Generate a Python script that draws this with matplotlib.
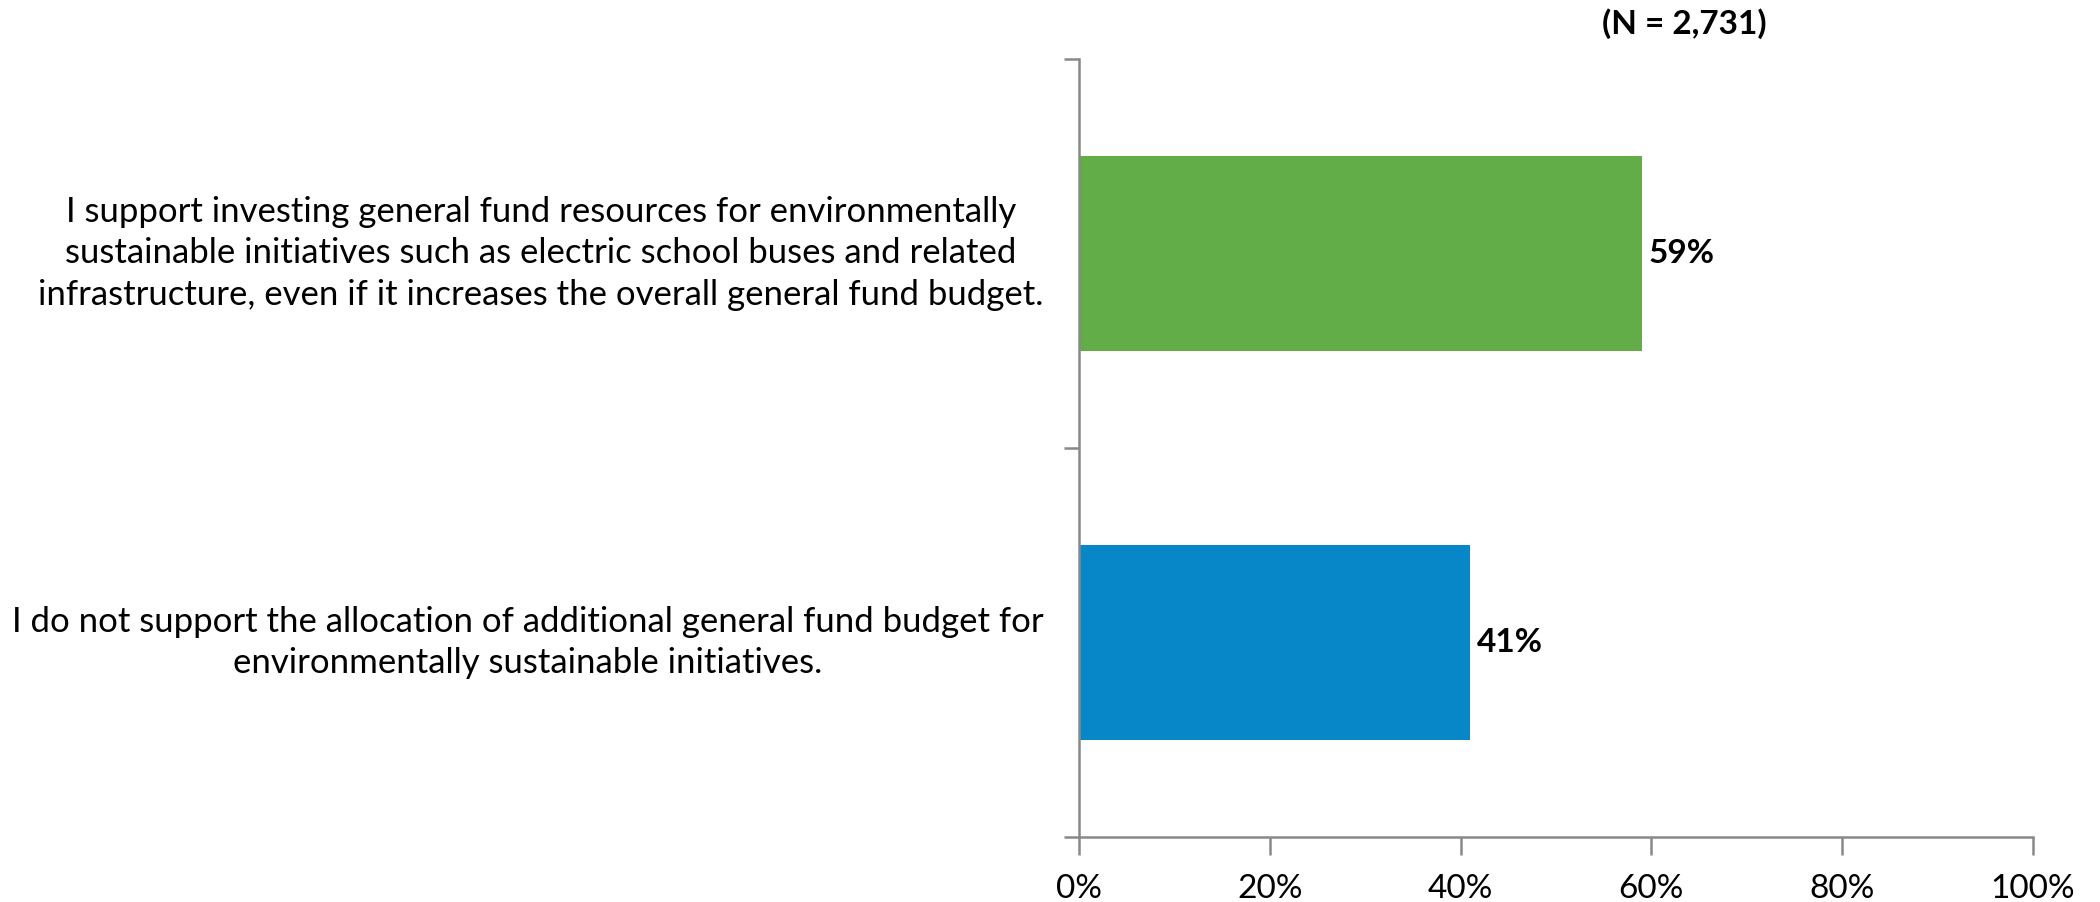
import matplotlib
matplotlib.use("Agg")
import matplotlib.pyplot as plt
from matplotlib.ticker import FixedLocator, PercentFormatter

# Survey responses (bottom to top on the chart)
categories = [
    "I do not support the allocation of additional general fund budget for\n"
    "environmentally sustainable initiatives.",
    "I support investing general fund resources for environmentally\n"
    "sustainable initiatives such as electric school buses and related\n"
    "infrastructure, even if it increases the overall general fund budget.",
]
values = [41, 59]
colors = ["#0787C8", "#62AD47"]
x_ticks = [0, 20, 40, 60, 80, 100]
n_label = "(N = 2,731)"

plt.rcParams["font.family"] = ["Lato", "DejaVu Sans"]
AXIS_GRAY = "#898989"

fig = plt.figure(figsize=(21, 9.02), dpi=100)
ax = fig.add_axes([0.5138, 0.0721, 0.4543, 0.8625])

pos = list(range(len(categories)))
ax.barh(pos, values, height=0.5, color=colors, zorder=2)

ax.set_xlim(0, 100)
ax.set_ylim(-0.5, len(categories) - 0.5)

# x axis: percent ticks pointing down
ax.xaxis.set_major_locator(FixedLocator(x_ticks))
ax.xaxis.set_major_formatter(PercentFormatter(decimals=0))
ax.tick_params(axis="x", direction="out", length=13, width=1.8,
               color=AXIS_GRAY, labelsize=24, pad=14)

# y axis: ticks on category boundaries, labels drawn as text
ax.yaxis.set_major_locator(FixedLocator([p - 0.5 for p in pos] + [pos[-1] + 0.5]))
ax.tick_params(axis="y", direction="out", length=11, width=1.8,
               color=AXIS_GRAY, labelleft=False)

for side in ("top", "right"):
    ax.spines[side].set_visible(False)
for side in ("left", "bottom"):
    ax.spines[side].set_color(AXIS_GRAY)
    ax.spines[side].set_linewidth(1.8)

for p, label in zip(pos, categories):
    ax.text(-0.037, p, label, transform=ax.get_yaxis_transform(),
            ha="right", va="center", multialignment="center",
            fontsize=25, linespacing=1.38)

for p, v in zip(pos, values):
    ax.annotate(f"{v}%", xy=(v, p), xytext=(7, 0), textcoords="offset pixels",
                ha="left", va="center", fontsize=24, fontweight="bold")

fig.text(1767 / 2100, 1 - 24 / 902, n_label, ha="right", va="center",
         fontsize=24, fontweight="bold")

fig.savefig("out.png", dpi=100)
